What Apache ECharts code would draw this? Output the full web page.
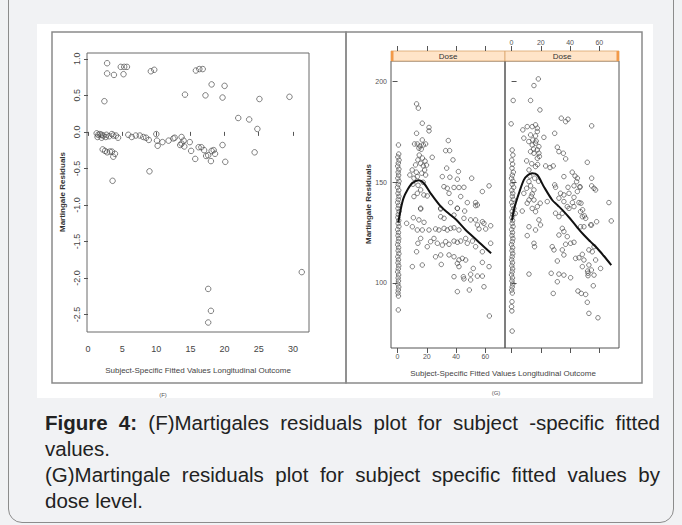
<!DOCTYPE html>
<html>
<head>
<meta charset="utf-8">
<script src="https://cdn.jsdelivr.net/npm/echarts@6/dist/echarts.min.js"></script>
<style>
html, body { margin: 0; padding: 0; background: #f1f2f4; }
#page { position: relative; width: 682px; height: 525px; overflow: hidden; }
#box { position: absolute; left: 8px; top: -20px; width: 664px; height: 541px; border: 1px solid #8c8c8c; border-radius: 14px; }
#img { position: absolute; left: 37px; top: 24px; width: 616px; height: 374px; background: #fff; }
#chart { position: absolute; left: 0; top: 0; width: 682px; height: 400px; }
#cap { position: absolute; left: 45px; top: 410px; width: 615px; font: 20.5px 'Liberation Sans', Arial, sans-serif; line-height: 26px; color: #222; white-space: nowrap; }
#cap .j { text-align: justify; text-align-last: justify; }
</style>
</head>
<body>
<div id="page">
  <div id="box"></div>
  <div id="img"></div>
  <div id="chart"></div>
  <div id="cap">
    <div class="j"><b>Figure 4:</b> (F)Martigales residuals plot for subject -specific fitted</div>
    <div>values.</div>
    <div class="j">(G)Martingale residuals plot for subject specific fitted values by</div>
    <div>dose level.</div>
  </div>
</div>
<script>
// (F) martingale residuals vs fitted values
const fTicksX = [0, 5, 10, 15, 20, 25, 30]
const fTicksY = [1.0, 0.5, 0.0, -0.5, -1.0, -1.5, -2.0, -2.5]
const fPoints = [
  [2.8, 0.94], [2.8, 0.80], [3.8, 0.78], [2.4, 0.42], [4.8, 0.89], [5.3, 0.89], [5.7, 0.89], [5.2, 0.79],
  [9.2, 0.83], [9.7, 0.85], [15.8, 0.84], [16.3, 0.86], [16.8, 0.86], [14.2, 0.51], [17.2, 0.50], [18.1, 0.65],
  [20.0, 0.63], [19.7, 0.47], [25.1, 0.45], [29.5, 0.48], [22.0, 0.19], [23.6, 0.17], [24.8, 0.04], [24.4, -0.28],
  [9.0, -0.54], [3.6, -0.67],
  [1.27, -0.02], [1.5, -0.04], [1.74, -0.03], [1.99, -0.04], [2.2, -0.05], [2.7, -0.04], [3.5, -0.03], [3.7, -0.05],
  [4.1, -0.05], [4.4, -0.08], [1.4, -0.07], [2.0, -0.08], [2.6, -0.07], [3.1, -0.06],
  [5.9, -0.04], [6.4, -0.07], [7.0, -0.05], [7.6, -0.05], [8.1, -0.07], [8.5, -0.08], [8.9, -0.11],
  [10.0, -0.03], [10.1, -0.12], [10.2, -0.19], [10.9, -0.14], [11.8, -0.12], [12.5, -0.09], [12.7, -0.08],
  [13.7, -0.07], [14.0, -0.12], [13.5, -0.18], [13.7, -0.16], [14.1, -0.20], [14.9, -0.14], [15.1, -0.26], [15.7, -0.37],
  [16.2, -0.21], [16.6, -0.21], [17.0, -0.25], [17.3, -0.33], [17.6, -0.32], [18.0, -0.40], [18.1, -0.26], [18.4, -0.25],
  [18.6, -0.30], [19.7, -0.18], [20.1, -0.41],
  [2.15, -0.24], [2.5, -0.26], [2.8, -0.28], [3.2, -0.27], [3.5, -0.27], [3.7, -0.34], [3.95, -0.30],
  [17.6, -2.15], [18.0, -2.45], [17.6, -2.61], [31.3, -1.92]
]

// (G) by dose level, two lattice panels
const gTicksX = [0, 20, 40, 60]
const gTicksY = [100, 150, 200]
const doseAPoints = [
  [13.0, 188.9], [14.2, 186.8], [16.9, 179.3], [13.0, 174.3], [21.5, 177.2], [21.5, 175.5], [16.9, 171.0], [11.6, 169.0],
  [13.5, 169.0], [15.3, 168.0], [17.6, 168.5], [19.2, 169.0], [14.6, 166.9], [16.2, 166.4], [34.7, 170.7], [32.9, 165.7],
  [35.6, 165.7], [23.7, 162.4], [37.9, 161.1], [13.9, 161.1], [15.8, 159.4], [12.3, 158.6], [17.6, 158.1], [18.5, 156.1],
  [19.2, 153.6], [10.0, 156.1], [8.4, 153.6], [11.2, 152.0], [13.5, 152.8], [33.6, 157.0], [41.6, 155.3], [30.6, 152.8],
  [35.8, 152.5], [40.9, 151.5], [50.7, 152.0], [31.7, 147.8], [34.0, 147.0], [38.6, 147.4], [42.0, 147.4], [45.4, 147.5],
  [62.6, 148.2], [35.2, 144.5], [43.2, 142.9], [36.3, 139.9], [58.0, 145.4], [47.7, 139.9], [54.6, 138.7], [53.4, 139.9],
  [15.8, 146.2], [13.5, 144.5], [11.2, 142.9], [18.0, 143.7], [20.3, 143.2], [15.8, 137.1], [29.5, 137.1], [40.9, 137.1],
  [14.8, 163.5], [17.0, 162.0], [18.8, 160.5], [12.8, 155.0], [16.5, 154.5], [19.8, 158.5], [10.5, 149.0], [17.5, 150.0],
  [14.0, 148.5],
  [15.8, 136.7], [29.5, 136.7], [40.9, 137.0], [45.9, 135.7], [53.4, 138.4], [10.8, 132.4], [14.6, 131.3], [18.1, 130.1],
  [6.2, 129.6], [10.1, 127.9], [29.5, 132.9], [31.8, 132.1], [38.6, 133.7], [45.4, 132.1], [50.0, 131.3], [53.4, 131.3],
  [58.0, 130.4], [63.7, 128.4], [54.6, 128.8], [55.7, 126.8], [59.1, 129.6], [60.3, 126.8],
  [13.5, 126.3], [16.9, 126.3], [21.5, 126.3], [26.0, 126.8], [28.3, 126.3], [31.8, 127.1], [34.0, 126.3], [36.3, 127.1],
  [38.6, 127.4], [42.0, 126.3],
  [15.8, 122.1], [13.9, 119.7], [22.6, 120.5], [24.9, 122.1], [27.2, 119.7], [30.6, 118.8], [32.9, 120.5], [35.2, 119.2],
  [38.6, 120.8], [40.9, 120.2], [43.2, 120.8], [46.6, 122.1], [47.7, 119.7], [51.2, 120.8], [53.4, 118.0], [58.0, 115.5],
  [63.7, 119.7], [13.0, 115.5], [20.3, 118.0], [26.0, 113.0], [29.5, 113.9], [35.2, 113.9], [38.6, 113.0], [42.0, 111.4],
  [44.3, 112.2], [46.6, 111.4], [10.1, 108.1], [16.9, 108.9], [29.9, 109.2], [40.9, 109.7], [42.0, 108.1], [51.8, 107.2],
  [58.0, 110.2], [62.6, 108.1], [38.6, 103.1], [45.0, 103.1], [45.4, 102.0], [50.0, 104.3], [50.0, 101.5], [54.6, 103.4],
  [58.0, 103.4], [59.1, 98.1], [40.9, 95.7], [49.1, 96.5], [62.8, 83.6]
]
const doseAColumn = [
  [0.6, 168.5], [0.8, 164], [0.2, 162.5], [1.0, 161], [0.5, 159.5], [0.1, 158], [0.9, 156.5], [0.4, 155],
  [0.7, 153.5], [0.2, 152], [1.0, 150.5], [0.5, 149], [0.0, 147.5], [0.8, 146], [0.3, 144.5], [0.9, 143],
  [0.5, 141.5], [0.1, 140], [0.7, 138.5], [0.3, 137], [1.0, 135.5], [0.5, 134], [0.2, 132.5], [0.8, 131],
  [0.4, 129.5], [0.9, 128], [0.1, 126.5], [0.6, 125], [0.3, 123.5], [0.8, 122], [0.5, 120.5], [0.1, 119],
  [0.7, 117.5], [0.4, 116], [0.9, 114.5], [0.2, 113], [0.6, 111.5], [0.3, 110], [0.8, 108.5], [0.5, 107],
  [0.1, 105.5], [0.7, 104], [0.4, 102.5], [0.6, 101], [0.2, 99.5], [0.8, 98], [0.5, 96.5], [0.3, 95],
  [0.6, 93.5], [0.5, 86.6]
]
const doseACurve = [
  [0.5, 130], [2, 136], [4, 142], [7, 146.5], [10, 149.5], [14.5, 151], [18, 149.5], [22.6, 144.5],
  [29.5, 138], [35, 134.5], [40, 131.5], [46.6, 126.3], [54.6, 121], [60, 117.3], [64, 114.7]
]
const doseBPoints = [
  [18.3, 201.3], [15.3, 198.0], [13.0, 190.6], [19.4, 185.9], [34.0, 181.8], [37.0, 180.1], [38.6, 181.3], [54.8, 178.0],
  [10.7, 177.6], [14.1, 177.6], [16.4, 178.5], [17.6, 176.8], [7.7, 176.0], [17.6, 175.2], [13.0, 173.5], [16.4, 173.0],
  [8.4, 171.9], [22.1, 172.3], [29.5, 174.3], [11.8, 170.2], [14.1, 168.5], [16.4, 169.4], [18.7, 167.7], [17.6, 166.1],
  [13.0, 165.2], [15.3, 164.4], [18.7, 164.4], [31.3, 167.4], [32.4, 165.2], [35.4, 164.4], [37.0, 161.6], [10.3, 160.6],
  [17.6, 161.9], [16.4, 157.8], [11.9, 156.1], [23.3, 158.1], [26.3, 157.3], [28.5, 158.1], [51.8, 159.9], [41.5, 155.0],
  [35.8, 152.8], [45.0, 152.0], [54.8, 152.0], [11.9, 150.3], [13.0, 148.2], [10.3, 147.0], [15.3, 146.2], [14.1, 144.2],
  [29.5, 148.7], [30.1, 147.5], [38.6, 147.5], [42.7, 148.2], [46.8, 147.5], [54.8, 148.2], [56.4, 147.0], [57.5, 146.2],
  [8.4, 144.5], [11.9, 141.2], [10.7, 139.6], [33.5, 144.5], [35.8, 143.7], [39.3, 144.5], [45.0, 145.4], [42.7, 142.5],
  [15.3, 141.2], [19.6, 139.6], [24.4, 140.4], [32.4, 142.1], [35.8, 140.4], [38.1, 137.9], [41.6, 139.9], [46.1, 139.9],
  [66.6, 139.9], [14.5, 171.0], [16.8, 170.5], [15.0, 166.5], [19.0, 162.8], [13.8, 159.2], [17.8, 158.8], [12.5, 153.0],
  [15.8, 152.0], [18.5, 150.5], [13.5, 143.0], [43.4, 153.1], [44.5, 150.3], [46.8, 147.8], [47.5, 139.6], [48.6, 136.3],
  [49.8, 133.3], [54.7, 128.8],
  [14.1, 137.0], [17.6, 137.9], [16.4, 135.4], [7.3, 135.7], [30.1, 134.6], [32.4, 132.9], [34.7, 134.6], [39.3, 137.0],
  [42.7, 137.9], [47.2, 135.4], [48.4, 132.9], [50.7, 132.1], [11.9, 127.9], [16.4, 126.3], [19.8, 128.8], [18.7, 131.3],
  [34.7, 127.1], [35.8, 125.5], [32.4, 123.8], [38.1, 123.0], [47.2, 127.9], [49.5, 127.9], [54.1, 128.8], [58.2, 130.4],
  [68.2, 130.8], [10.7, 123.5], [15.3, 119.7], [15.7, 118.0], [27.8, 118.0], [29.0, 116.4], [34.7, 116.4], [35.8, 113.9],
  [37.0, 119.2], [40.4, 119.7], [42.7, 120.2], [43.8, 112.2], [46.1, 112.5], [48.4, 114.2], [49.5, 111.4], [52.9, 116.4],
  [55.2, 115.5], [56.4, 118.0], [31.3, 110.9], [48.4, 108.1], [52.9, 108.9], [54.6, 106.4], [57.5, 111.4], [60.9, 107.2],
  [56.4, 103.9], [11.9, 104.4], [27.1, 104.8], [32.4, 104.4], [35.8, 103.9], [40.4, 102.6], [52.0, 105.9], [52.3, 104.8],
  [52.3, 103.6], [31.3, 100.6], [55.9, 98.6], [28.5, 94.8], [45.4, 96.0], [47.7, 94.8], [50.7, 94.3], [51.8, 90.4],
  [52.9, 84.9], [59.1, 82.7]
]
const doseBColumn = [
  [1.1, 190.6], [-0.3, 179], [0.4, 166], [0.9, 163.5], [0.1, 161], [0.7, 159], [0.3, 157], [1.2, 155],
  [0.5, 153.5], [0.0, 152], [0.9, 150.5], [0.4, 149], [1.4, 147.5], [0.2, 146], [0.8, 144.5], [0.5, 143],
  [1.1, 141.5], [0.1, 140], [0.7, 138.5], [1.6, 137], [0.4, 135.5], [2.5, 134.5], [0.9, 134], [0.2, 132.5],
  [0.7, 131], [0.4, 129.5], [1.0, 128], [0.1, 126.5], [0.6, 125], [0.3, 123.5], [0.9, 122], [0.5, 120.5],
  [0.0, 119], [0.7, 117.5], [0.3, 116], [0.8, 114.5], [0.4, 113], [0.1, 111.5], [0.6, 110], [0.2, 108.5],
  [0.7, 107], [0.4, 105.5], [0.0, 104], [0.6, 102.5], [0.3, 101], [0.8, 99.5], [0.4, 98], [0.1, 96.5],
  [0.5, 95], [0.3, 90.7], [0.0, 88.2], [0.2, 86.1], [0.4, 76.1]
]
const doseBCurve = [
  [0.3, 131], [1.6, 136.3], [3, 140], [5, 144.5], [8.4, 151.2], [11, 153.5], [14.1, 154.5], [17.6, 153.6],
  [22.1, 147.8], [27.8, 141.2], [31.3, 138.7], [34.7, 136.3], [40, 132], [45, 127.5], [49.5, 123.8],
  [54, 120.5], [58.6, 117.2], [63, 113.5], [68.2, 108.9]
]

const NARROW = "'Liberation Sans Narrow', 'Liberation Sans', Arial, sans-serif"
const tickStyle = { color: '#555', width: 1 }

function gAxisX(grid, pos, labels) {
  return {
    type: 'value', gridIndex: grid, position: pos, offset: pos === 'top' ? 10 : 0,
    min: -4.5, max: 73.5,
    axisLine: { show: false },
    splitLine: { show: false },
    axisTick: { show: true, length: 5, customValues: gTicksX, lineStyle: tickStyle },
    axisLabel: { show: labels, customValues: gTicksX, fontSize: 7, color: '#555', margin: 5, fontFamily: NARROW }
  }
}
function gAxisY(grid, pos, labels) {
  return {
    type: 'value', gridIndex: grid, position: pos,
    min: 67.7, max: 210.2,
    axisLine: { show: false },
    splitLine: { show: false },
    axisTick: { show: true, length: 5, customValues: gTicksY, lineStyle: tickStyle },
    axisLabel: { show: labels, customValues: gTicksY, fontSize: 7, color: '#555', margin: 4, fontFamily: NARROW }
  }
}
function circles(xi, yi, data, size) {
  return {
    type: 'scatter', xAxisIndex: xi, yAxisIndex: yi, data: data, symbol: 'circle', symbolSize: size,
    silent: true,
    itemStyle: { color: 'rgba(255,255,255,0)', borderColor: '#444', borderWidth: 0.8, opacity: 0.85 }
  }
}
function curve(xi, yi, data) {
  return {
    type: 'line', xAxisIndex: xi, yAxisIndex: yi, data: data, symbol: 'none', smooth: 0.3,
    silent: true, z: 5, lineStyle: { color: '#111', width: 2 }
  }
}
function strip(x, w, barX) {
  return [
    { type: 'rect', shape: { x: x, y: 51, width: w, height: 10 }, style: { fill: '#ffe4c8', stroke: '#d9a36b', lineWidth: 0.8 } },
    { type: 'rect', shape: { x: barX, y: 51, width: 2.5, height: 10 }, style: { fill: '#f29a4a' } },
    { type: 'text', x: x + w / 2, y: 56, style: { text: 'Dose', fontSize: 8, fill: '#333', align: 'center', verticalAlign: 'middle', fontFamily: NARROW } }
  ]
}

const chart = echarts.init(document.getElementById('chart'), null, { renderer: 'svg' })
chart.setOption({
  animation: false,
  grid: [
    { left: 87, top: 53, width: 222, height: 279, show: true, borderColor: '#6a6a6a', borderWidth: 1 },
    { left: 391, top: 61, width: 114, height: 287, show: true, borderColor: '#555', borderWidth: 1 },
    { left: 505, top: 61, width: 114, height: 287, show: true, borderColor: '#555', borderWidth: 1 }
  ],
  xAxis: [
    {
      type: 'value', gridIndex: 0, min: -0.146, max: 32.36,
      axisLine: { show: false }, splitLine: { show: false },
      axisTick: { show: true, length: 4, customValues: fTicksX, lineStyle: tickStyle },
      axisLabel: { customValues: fTicksX, fontSize: 9, color: '#444', margin: 12, fontFamily: NARROW }
    },
    gAxisX(1, 'bottom', true),
    gAxisX(1, 'top', false),
    gAxisX(2, 'bottom', false),
    gAxisX(2, 'top', true)
  ],
  yAxis: [
    {
      type: 'value', gridIndex: 0, min: -2.74, max: 1.08,
      axisLine: { show: false }, splitLine: { show: false },
      axisTick: { show: true, length: 4, customValues: fTicksY, lineStyle: tickStyle },
      axisLabel: { customValues: fTicksY, rotate: 90, fontSize: 9, color: '#444', margin: 6, fontFamily: NARROW,
        formatter: v => v.toFixed(1) }
    },
    gAxisY(1, 'left', true),
    gAxisY(2, 'right', false)
  ],
  series: [
    circles(0, 0, fPoints, 5.5),
    circles(1, 1, doseAPoints, 4.5),
    circles(1, 1, doseAColumn, 4.5),
    curve(1, 1, doseACurve),
    circles(4, 2, doseBPoints, 4.5),
    circles(4, 2, doseBColumn, 4.5),
    curve(4, 2, doseBCurve)
  ],
  graphic: [
    { type: 'rect', shape: { x: 52, y: 32, width: 294, height: 351 }, style: { fill: 'none', stroke: '#8a8a8a', lineWidth: 1.5 } },
    { type: 'rect', shape: { x: 346, y: 32, width: 296, height: 351 }, style: { fill: 'none', stroke: '#8a8a8a', lineWidth: 1.5 } },
    { type: 'text', x: 198, y: 370, style: { text: 'Subject-Specific Fitted Values Longitudinal Outcome', fontSize: 8, fill: '#444', align: 'center', verticalAlign: 'middle', fontFamily: NARROW } },
    { type: 'text', x: 62, y: 192, rotation: Math.PI / 2, style: { text: 'Martingale Residuals', fontSize: 8, fontWeight: 'bold', fill: '#333', align: 'center', verticalAlign: 'middle', fontFamily: 'Liberation Sans, Arial, sans-serif' } },
    { type: 'text', x: 163, y: 395, style: { text: '(F)', fontSize: 6, fill: '#555', align: 'center', verticalAlign: 'middle', fontFamily: NARROW } },
    ...strip(391, 114, 391),
    ...strip(505, 114, 616.5),
    { type: 'text', x: 503, y: 373, style: { text: 'Subject-Specific Fitted Values Longitudinal Outcome', fontSize: 8, fill: '#444', align: 'center', verticalAlign: 'middle', fontFamily: NARROW } },
    { type: 'text', x: 368, y: 204, rotation: Math.PI / 2, style: { text: 'Martingale Residuals', fontSize: 8, fontWeight: 'bold', fill: '#333', align: 'center', verticalAlign: 'middle', fontFamily: 'Liberation Sans, Arial, sans-serif' } },
    { type: 'text', x: 496, y: 393, style: { text: '(G)', fontSize: 6, fill: '#555', align: 'center', verticalAlign: 'middle', fontFamily: NARROW } }
  ]
})
</script>
</body>
</html>
